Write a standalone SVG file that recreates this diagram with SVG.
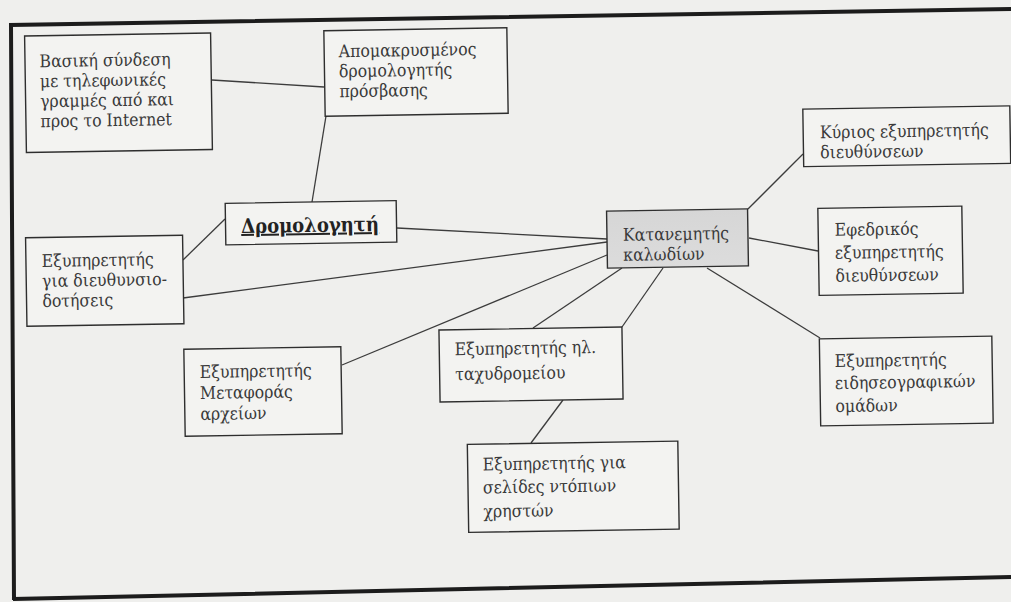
<svg xmlns="http://www.w3.org/2000/svg" width="1011" height="602" viewBox="0 0 1011 602">
<defs>
<style>
.bx{fill:#f3f3f1;stroke:#2e2e2e;stroke-width:1.4}
.hub{fill:url(#g);stroke:#2e2e2e;stroke-width:1.4}
.t{font-family:"DejaVu Serif Condensed","DejaVu Serif","Liberation Serif",serif;font-size:17.5px;fill:#3a3a3a}
.tb{font-family:"DejaVu Serif Condensed","DejaVu Serif","Liberation Serif",serif;font-size:20px;font-weight:bold;fill:#222;text-decoration:underline}
.c line{stroke:#3c3c3c;stroke-width:1.3}
</style>
<linearGradient id="g" x1="0" y1="0" x2="0" y2="1">
<stop offset="0" stop-color="#d6d6d6"/>
<stop offset="1" stop-color="#dcdcdc"/>
</linearGradient>
</defs>
<rect x="0" y="0" width="1011" height="602" fill="#efefed"/>
<path d="M1011,9 L11,25 L14,600 M13,599 L1011,577" fill="none" stroke="#1c1c1c" stroke-width="4"/>

<g class="c" id="connectors">
<line x1="212" y1="80" x2="324" y2="87"/>
<line x1="326" y1="116" x2="312" y2="202"/>
<line x1="183" y1="260" x2="225" y2="219"/>
<line x1="397" y1="228" x2="607" y2="239"/>
<line x1="183" y1="298" x2="607" y2="242"/>
<line x1="342" y1="365" x2="607" y2="255"/>
<line x1="622" y1="268" x2="533" y2="328"/>
<line x1="663" y1="268" x2="622" y2="327"/>
<line x1="563" y1="400" x2="531" y2="443"/>
<line x1="748" y1="209" x2="803" y2="154"/>
<line x1="749" y1="238" x2="818" y2="251"/>
<line x1="707" y1="268" x2="820" y2="338"/>
</g>

<g id="n-basic" transform="rotate(-0.9 118.5 92.75)">
<rect class="bx" x="25.5" y="34.5" width="186" height="116.5"/>
<text class="t"><tspan x="40" y="66">Βασική σύνδεση</tspan><tspan x="40" y="86">με τηλεφωνικές</tspan><tspan x="40" y="106">γραμμές από και</tspan><tspan x="40" y="126">προς το Internet</tspan></text>
</g>

<g id="n-remote" transform="rotate(-0.9 416 72)">
<rect class="bx" x="324.5" y="29.25" width="183" height="85.5"/>
<text class="t"><tspan x="339" y="56">Απομακρυσμένος</tspan><tspan x="339" y="76">δρομολογητής</tspan><tspan x="339" y="96">πρόσβασης</tspan></text>
</g>

<g id="n-router" transform="rotate(-0.9 311 222.75)">
<rect class="bx" x="225.5" y="202" width="171" height="41.5"/>
<text class="tb" x="310" y="232" text-anchor="middle">Δρομολογητή</text>
</g>

<g id="n-dhcp" transform="rotate(-0.9 104.75 280.75)">
<rect class="bx" x="26.25" y="236.5" width="157" height="88.5"/>
<text class="t"><tspan x="42" y="266">Εξυπηρετητής</tspan><tspan x="42" y="286">για διευθυνσιο-</tspan><tspan x="42" y="306">δοτήσεις</tspan></text>
</g>

<g id="n-ftp" transform="rotate(-0.9 263 391.5)">
<rect class="bx" x="184.5" y="348" width="157" height="87"/>
<text class="t"><tspan x="200" y="377">Εξυπηρετητής</tspan><tspan x="200" y="398">Μεταφοράς</tspan><tspan x="200" y="419">αρχείων</tspan></text>
</g>

<g id="n-hub" transform="rotate(-0.9 677.5 238.5)">
<rect class="hub" x="607" y="210" width="141" height="57"/>
<text class="t"><tspan x="623" y="240">Κατανεμητής</tspan><tspan x="623" y="260">καλωδίων</tspan></text>
</g>

<g id="n-primary" transform="rotate(-0.9 906.75 136.25)">
<rect class="bx" x="803.25" y="107.5" width="207" height="57.5"/>
<text class="t"><tspan x="820" y="137">Κύριος εξυπηρετητής</tspan><tspan x="820" y="157">διευθύνσεων</tspan></text>
</g>

<g id="n-backup" transform="rotate(-0.9 890.5 250.75)">
<rect class="bx" x="818.5" y="207.25" width="144" height="87"/>
<text class="t"><tspan x="835" y="235">Εφεδρικός</tspan><tspan x="835" y="258">εξυπηρετητής</tspan><tspan x="835" y="281">διευθύνσεων</tspan></text>
</g>

<g id="n-news" transform="rotate(-0.9 906.25 381)">
<rect class="bx" x="820" y="337.5" width="172.5" height="87"/>
<text class="t"><tspan x="835" y="366">Εξυπηρετητής</tspan><tspan x="835" y="388">ειδησεογραφικών</tspan><tspan x="835" y="411">ομάδων</tspan></text>
</g>

<g id="n-mail" transform="rotate(-0.9 531 364.5)">
<rect class="bx" x="439.5" y="328.5" width="183" height="72"/>
<text class="t"><tspan x="455" y="354">Εξυπηρετητής ηλ.</tspan><tspan x="455" y="379">ταχυδρομείου</tspan></text>
</g>

<g id="n-pages" transform="rotate(-0.9 573.25 486.75)">
<rect class="bx" x="468" y="442.75" width="210.5" height="88"/>
<text class="t"><tspan x="483" y="469">Εξυπηρετητής για</tspan><tspan x="483" y="492">σελίδες ντόπιων</tspan><tspan x="483" y="516">χρηστών</tspan></text>
</g>
</svg>
